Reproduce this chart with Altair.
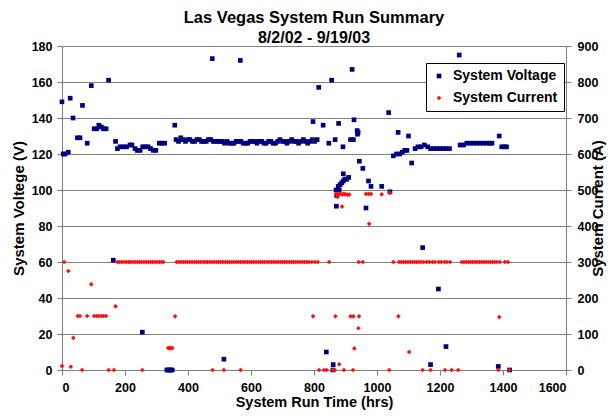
import altair as alt
import pandas as pd

# ---- data (x = run time hrs, y = value) ----
voltage_early = [(0,149),(4,120),(10,120),(20,121),(26,151),(35,140),(49,129),(57,129),(65,147),(80,126),
                 (93,158),(102,134),(110,134),(117,136),(125,135),(132,134),(140,134),(148,161),(170,127),
                 (176,123),(184,124),(195,124),(205,124),(216,125),(222,125),(232,123),(239,122),(248,122),
                 (256,124),(264,124),(273,124),(281,123),(290,122),(298,122),(309,126),(317,126),(326,126),(358,136)]
voltage_band = [(362,128),(370,127),(377,129),(384,128),(392,127),(399,128),(406,128),(414,127),(421,127),
                (428,128),(436,128),(443,127),(450,127),(458,127),(465,128),(472,128),(480,127),(487,127),
                (494,127),(502,127),(509,127),(516,126),(524,127),(531,126),(538,126),(546,126),(553,127),
                (560,127),(568,127),(575,126),(582,126),(590,126),(597,127),(604,127),(612,127),(619,126),
                (626,127),(634,127),(641,126),(648,126),(656,127),(663,127),(670,126),(678,126),(685,127),
                (692,128),(700,127),(707,127),(714,126),(722,127),(729,128),(736,127),(744,127),(751,126),
                (758,127),(766,128),(773,127),(780,126),(788,127),(795,128),(802,127),(810,128)]
voltage_high = [(477,173),(566,172),(797,138),(815,157),(829,136),(856,161),(878,137),(921,167),
                (927,139),(1037,143),(1261,175)]
voltage_transient = [(847,126),(867,128),(892,124),(916,128),(925,128),(937,133),(938,131),(940,132),
                     (944,116),(955,112),(965,90),(973,105),(981,102),(1015,102),(1041,99),(1052,119),
                     (1062,120),(1067,132),(1072,120),(1080,121),(1088,122),(1095,122),(1100,130),(1110,115),
                     (870,100),(871,91),(872,97),(877,102),(880,100),(883,103),(888,104),(893,105),(893,109),
                     (898,106),(904,106),(910,107)]
voltage_late = [(1121,123),(1130,124),(1140,124),(1150,125),(1161,124),(1170,123),(1180,123),(1190,123),
                (1200,123),(1210,123),(1220,123),(1230,123),(1264,125),(1275,125),(1285,126),(1296,126),
                (1306,126),(1317,126),(1327,126),(1338,126),(1348,126),(1358,126),(1365,126),(1388,130),
                (1396,124),(1404,124),(1411,124)]
voltage_low = [(163,61),(255,21),(333,0),(337,0),(341,0),(345,0),(350,0),(514,6),(839,10),(861,3),(860,0),
               (1145,68),(1170,3),(1195,45),(1219,13),(1385,2),(1421,0)]

current_main_level = 300
current_main_x = [176,183,190,197,204,211,218,225,232,239,246,253,260,267,274,281,288,295,302,309,316,322,
                  364,371,378,385,392,399,406,413,420,427,434,441,448,455,462,469,476,483,490,497,504,511,
                  518,525,532,539,546,553,560,567,574,581,588,595,602,609,616,623,630,637,644,651,658,665,
                  672,679,686,693,700,707,714,721,728,735,742,749,756,763,770,777,784,793,803,812,848,942,
                  955,1052,1070,1077,1084,1091,1098,1105,1112,1119,1126,1133,1140,1148,1158,1166,1176,1184,
                  1196,1204,1214,1222,1232,1269,1276,1283,1290,1297,1304,1311,1318,1325,1332,1339,1346,1353,
                  1360,1367,1374,1381,1390,1406,1416]
current_other = [(0,11),(7,300),(20,275),(28,9),(36,89),(50,150),(57,150),(64,0),(80,150),(93,238),(102,150),
                 (110,150),(117,150),(125,150),(132,150),(140,150),(148,0),(165,0),(170,177),(255,0),(337,61),
                 (341,61),(345,61),(350,61),(359,149),(478,0),(514,0),(567,0),(797,149),(816,0),(832,0),
                 (840,0),(860,0),(866,0),(880,16),(895,0),(924,0),(868,149),(916,149),(925,149),(943,149),
                 (941,116),(928,60),(1039,0),(1068,149),(1102,50),(1145,0),(1170,0),(1216,0),(1237,0),
                 (1258,0),(1385,0),(1388,147),(1421,0)]
current_fault = [(870,489),(875,481),(878,488),(883,489),(889,454),(890,488),(895,489),(900,488),(906,487),
                 (912,487),(965,489),(973,489),(975,406),(981,489),(1015,488),(1041,492)]

series_names = ["System Voltage", "System Current"]
series_colors = ["#00007f", "#ff1010"]
series_shapes = ["square", "diamond"]
x_ticks = [0, 200, 400, 600, 800, 1000, 1200, 1400, 1600]
v_ticks = [0, 20, 40, 60, 80, 100, 120, 140, 160, 180]
a_ticks = [0, 100, 200, 300, 400, 500, 600, 700, 800, 900]

volt_pts = voltage_early + voltage_band + voltage_high + voltage_transient + voltage_late + voltage_low
curr_pts = [(x, current_main_level) for x in current_main_x] + current_other + current_fault
vdf = pd.DataFrame(volt_pts, columns=["t", "val"]); vdf["series"] = series_names[0]
cdf = pd.DataFrame(curr_pts, columns=["t", "val"]); cdf["series"] = series_names[1]

FONT = "Liberation Sans"
color = alt.Color("series:N", scale=alt.Scale(domain=series_names, range=series_colors),
                  legend=alt.Legend(title=None, orient="none", legendX=364, legendY=17,
                                    strokeColor="#000000", fillColor="#ffffff", padding=6,
                                    labelFont=FONT, labelFontSize=14, labelFontWeight="bold",
                                    labelColor="#000000", symbolSize=22, rowPadding=8, labelOffset=7))
shape = alt.Shape("series:N", scale=alt.Scale(domain=series_names, range=series_shapes), legend=None)

xenc = alt.X("t:Q", scale=alt.Scale(domain=[0, 1600], nice=False),
             axis=alt.Axis(title="System Run Time (hrs)", values=x_ticks, grid=False, format="d",
                           tickSize=5, labelPadding=6, titlePadding=2, titleFontSize=14.5))

volt = alt.Chart(vdf).mark_point(filled=True, size=22, opacity=1).encode(
    x=xenc,
    y=alt.Y("val:Q", scale=alt.Scale(domain=[0, 180], nice=False),
            axis=alt.Axis(title="System Voltege (V)", values=v_ticks, grid=True, orient="left",
                          tickSize=5, labelPadding=5, titlePadding=5)),
    color=color, shape=shape)

curr = alt.Chart(cdf).mark_point(filled=True, size=22, opacity=1).encode(
    x=xenc,
    y=alt.Y("val:Q", scale=alt.Scale(domain=[0, 900], nice=False),
            axis=alt.Axis(title="System Current (A)", values=a_ticks, grid=False, orient="right",
                          tickSize=5, labelPadding=6, titlePadding=8, titleAngle=270)),
    color=color, shape=shape)

chart = alt.layer(volt, curr).resolve_scale(y="independent").properties(
    width=504, height=324,
    autosize=alt.AutoSizeParams(type="none"),
    padding={"left": 54, "top": 38, "right": 41, "bottom": 41},
    title=alt.TitleParams(text="Las Vegas System Run Summary", subtitle="8/2/02 - 9/19/03",
                          font=FONT, fontSize=16.5, fontWeight="bold", color="#000000",
                          subtitleFont=FONT, subtitleFontSize=16, subtitleFontWeight="bold",
                          subtitleColor="#000000", anchor="middle", frame="group", offset=-6,
                          subtitlePadding=4)
).configure_view(stroke=None).configure_axis(
    labelFont=FONT, labelFontSize=12.5, labelFontWeight="bold", labelColor="#000000",
    titleFont=FONT, titleFontSize=15, titleFontWeight="bold", titleColor="#000000",
    domainColor="#808080", tickColor="#808080", gridColor="#808080", gridWidth=1
)

chart.save("out.html", embed_options={"renderer": "svg", "actions": False})
